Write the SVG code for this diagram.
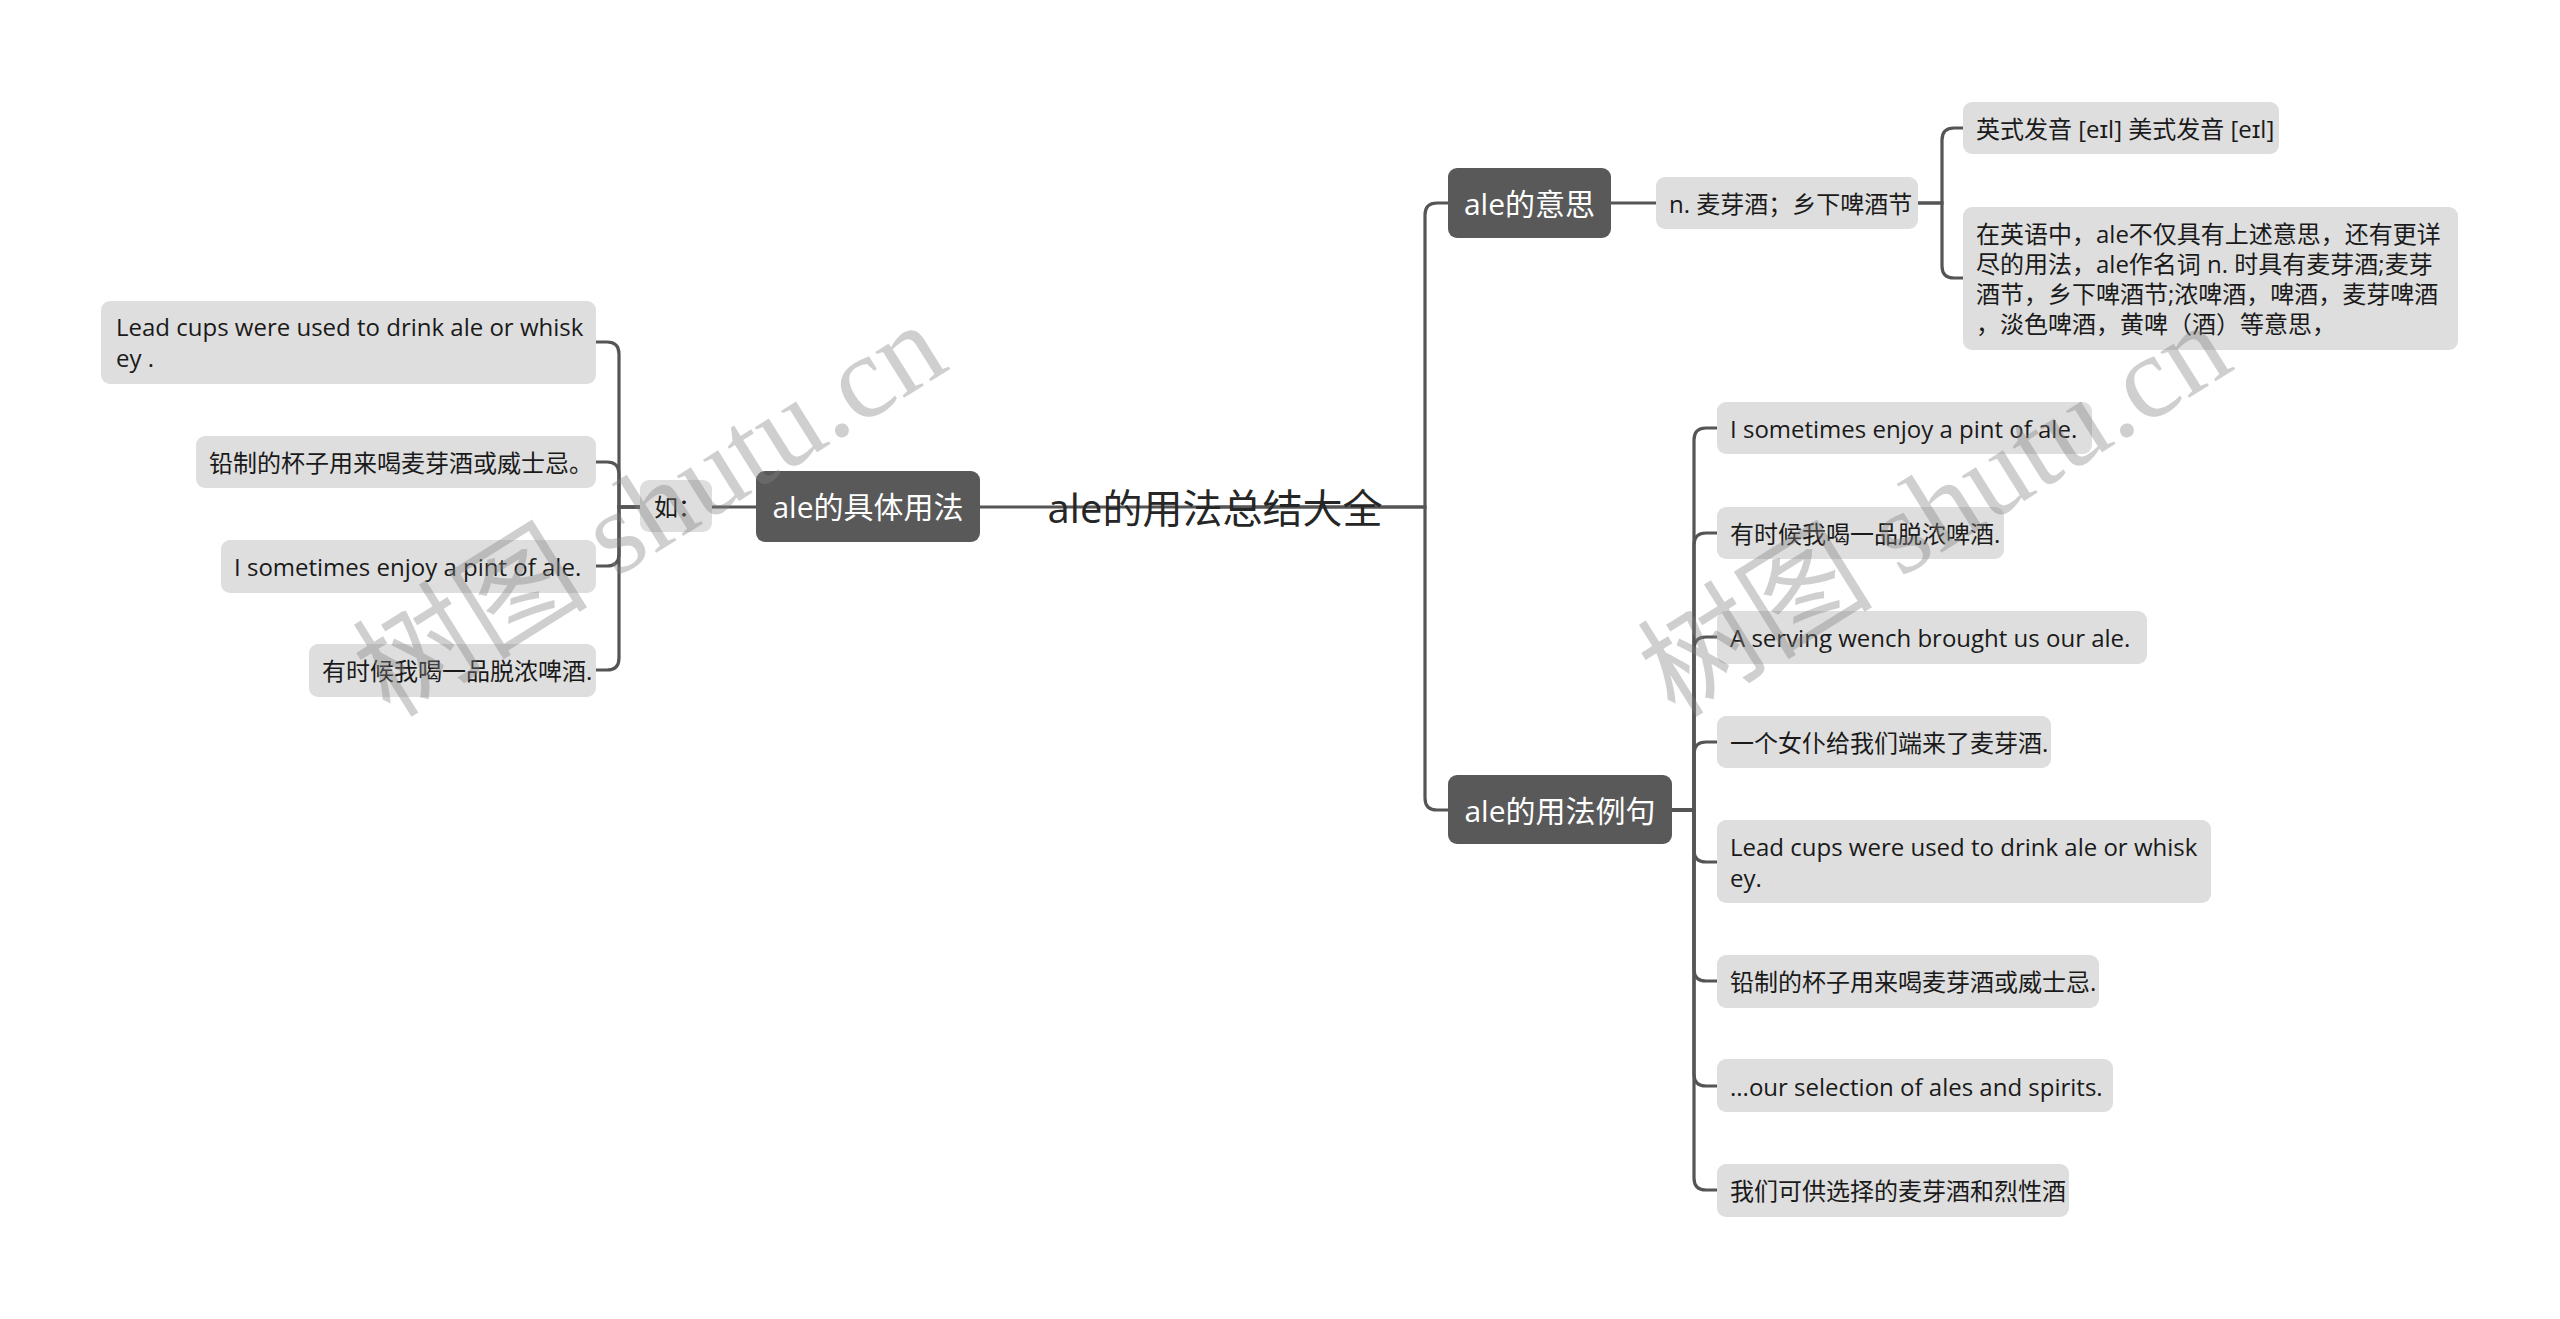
<svg xmlns="http://www.w3.org/2000/svg" width="2560" height="1319" viewBox="0 0 2560 1319">
<style>
text { font-family: "Open Sans", "Noto Sans CJK SC", sans-serif; dominant-baseline: central; }
.conn path { fill: none; stroke: #555555; stroke-width: 3.2; }
.main rect { fill: #595959; }
.main text { fill: #ffffff; font-size: 30px; text-anchor: middle; }
.sub rect { fill: #dedede; }
.sub text { fill: #1a1a1a; font-size: 24px; }
.root text { fill: #262626; font-size: 40px; text-anchor: middle; }
.wm { fill: #808080; fill-opacity: 0.38; font-family: "Liberation Serif", "Noto Sans CJK SC", serif; font-size: 118px; text-anchor: middle; }
</style>
<rect x="0" y="0" width="2560" height="1319" fill="#ffffff"/>

<g id="connectors" class="conn">
  <path d="M1215,507 H980"/>
  <path d="M1215,507 H1425 V215 Q1425,203 1437,203 H1448"/>
  <path d="M1215,507 H1425 V798 Q1425,810 1437,810 H1448"/>
  <path d="M1611,203 H1656"/>
  <path d="M1918,203 H1942 V140 Q1942,128 1954,128 H1963"/>
  <path d="M1918,203 H1942 V266 Q1942,278 1954,278 H1963"/>
  <path d="M1672,810 H1694 V440 Q1694,428 1706,428 H1717"/>
  <path d="M1672,810 H1694 V545 Q1694,533 1706,533 H1717"/>
  <path d="M1672,810 H1694 V649 Q1694,637 1706,637 H1717"/>
  <path d="M1672,810 H1694 V754 Q1694,742 1706,742 H1717"/>
  <path d="M1672,810 H1694 V850 Q1694,862 1706,862 H1717"/>
  <path d="M1672,810 H1694 V969 Q1694,981 1706,981 H1717"/>
  <path d="M1672,810 H1694 V1074 Q1694,1086 1706,1086 H1717"/>
  <path d="M1672,810 H1694 V1178 Q1694,1190 1706,1190 H1717"/>
  <path d="M756,507 H712"/>
  <path d="M640,507 H619 V354 Q619,342 607,342 H596"/>
  <path d="M640,507 H619 V474 Q619,462 607,462 H596"/>
  <path d="M640,507 H619 V554 Q619,566 607,566 H596"/>
  <path d="M640,507 H619 V658 Q619,670 607,670 H596"/>
</g>

<g id="root" class="root">
  <text x="1215" y="507">ale的用法总结大全</text>
</g>

<g id="n-meaning" class="main">
  <rect x="1448" y="168" width="163" height="70" rx="9"/>
  <text x="1529.5" y="203">ale的意思</text>
</g>
<g id="n-usage" class="main">
  <rect x="756" y="471" width="224" height="71" rx="9"/>
  <text x="868" y="506.5">ale的具体用法</text>
</g>
<g id="n-examples" class="main">
  <rect x="1448" y="775" width="224" height="69" rx="9"/>
  <text x="1560" y="810">ale的用法例句</text>
</g>

<g id="n-def" class="sub">
  <rect x="1656" y="177" width="262" height="52" rx="9"/>
  <text x="1669" y="203">n. 麦芽酒；乡下啤酒节</text>
</g>
<g id="n-pron" class="sub">
  <rect x="1963" y="102" width="316" height="52" rx="9"/>
  <text x="1976" y="128">英式发音 [eɪl] 美式发音 [eɪl]</text>
</g>
<g id="n-detail" class="sub">
  <rect x="1963" y="207" width="495" height="143" rx="9"/>
  <text x="1976" y="233.5">在英语中，ale不仅具有上述意思，还有更详</text>
  <text x="1976" y="263.5">尽的用法，ale作名词 n. 时具有麦芽酒;麦芽</text>
  <text x="1976" y="293.5">酒节，乡下啤酒节;浓啤酒，啤酒，麦芽啤酒</text>
  <text x="1976" y="323.5">，淡色啤酒，黄啤（酒）等意思，</text>
</g>

<g id="n-ex1" class="sub">
  <rect x="1717" y="402" width="375" height="52" rx="9"/>
  <text x="1730" y="428">I sometimes enjoy a pint of ale.</text>
</g>
<g id="n-ex2" class="sub">
  <rect x="1717" y="507" width="287" height="52" rx="9"/>
  <text x="1730" y="533">有时候我喝一品脱浓啤酒.</text>
</g>
<g id="n-ex3" class="sub">
  <rect x="1717" y="611" width="430" height="53" rx="9"/>
  <text x="1730" y="637">A serving wench brought us our ale.</text>
</g>
<g id="n-ex4" class="sub">
  <rect x="1717" y="716" width="334" height="52" rx="9"/>
  <text x="1730" y="742">一个女仆给我们端来了麦芽酒.</text>
</g>
<g id="n-ex5" class="sub">
  <rect x="1717" y="820" width="494" height="83" rx="9"/>
  <text x="1730" y="846.5">Lead cups were used to drink ale or whisk</text>
  <text x="1730" y="877.5">ey.</text>
</g>
<g id="n-ex6" class="sub">
  <rect x="1717" y="955" width="382" height="53" rx="9"/>
  <text x="1730" y="981">铅制的杯子用来喝麦芽酒或威士忌.</text>
</g>
<g id="n-ex7" class="sub">
  <rect x="1717" y="1059" width="396" height="53" rx="9"/>
  <text x="1730" y="1086">...our selection of ales and spirits.</text>
</g>
<g id="n-ex8" class="sub">
  <rect x="1717" y="1164" width="352" height="53" rx="9"/>
  <text x="1730" y="1190">我们可供选择的麦芽酒和烈性酒</text>
</g>

<g id="n-ru" class="sub">
  <rect x="640" y="480" width="72" height="52" rx="9"/>
  <text x="654" y="506">如：</text>
</g>
<g id="n-l1" class="sub">
  <rect x="101" y="301" width="495" height="83" rx="9"/>
  <text x="116" y="326.5">Lead cups were used to drink ale or whisk</text>
  <text x="116" y="357.5">ey .</text>
</g>
<g id="n-l2" class="sub">
  <rect x="196" y="436" width="400" height="52" rx="9"/>
  <text x="209" y="462">铅制的杯子用来喝麦芽酒或威士忌。</text>
</g>
<g id="n-l3" class="sub">
  <rect x="221" y="540" width="375" height="53" rx="9"/>
  <text x="234" y="566">I sometimes enjoy a pint of ale.</text>
</g>
<g id="n-l4" class="sub">
  <rect x="309" y="644" width="287" height="53" rx="9"/>
  <text x="322" y="670">有时候我喝一品脱浓啤酒.</text>
</g>

<g id="watermarks">
  <text class="wm" transform="translate(650,510) rotate(-32)">树图 shutu.cn</text>
  <text class="wm" transform="translate(1935,510) rotate(-32)">树图 shutu.cn</text>
</g>
</svg>
